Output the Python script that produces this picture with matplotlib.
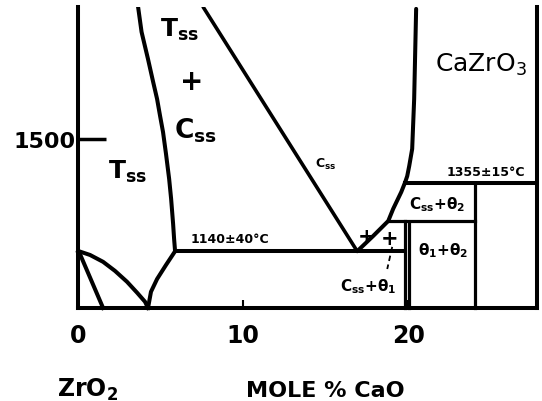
import matplotlib
matplotlib.use("Agg")
import matplotlib.pyplot as plt

plt.rcParams['font.family'] = 'DejaVu Sans'
plt.rcParams['mathtext.fontset'] = 'dejavusans'

# phase boundaries (x = mole % CaO, y = temperature, deg C)
tss_x = [3.64, 3.85, 4.24, 4.55, 4.79, 4.97, 5.15, 5.33, 5.52, 5.64, 5.76, 5.82, 5.88]
tss_t = [1923, 1843, 1756, 1683, 1628, 1574, 1522, 1452, 1372, 1308, 1228, 1180, 1140]

tss_low_x = [5.88, 5.33, 4.79, 4.42, 4.24]
tss_low_t = [1140, 1096, 1051, 1010, 958]

css_x = [7.58, 16.91]
css_t = [1923, 1140]

right_x = [20.48, 20.36, 20.24, 20.06, 19.94, 19.82, 19.58, 19.09, 18.79, 17.88, 16.91]
right_t = [1917, 1628, 1468, 1413, 1381, 1362, 1330, 1276, 1237, 1189, 1140]

mono_x = [0.0, 0.73, 1.52, 2.24, 2.97, 3.58, 4.06, 4.24]
mono_t = [1141, 1128, 1106, 1077, 1042, 1007, 978, 958]

mono2_x = [0.12, 1.52]
mono2_t = [1131, 958]

eutectoid_t = 1140
eutectoid_x = [5.88, 19.82]
upper_t = 1360
upper_x = [19.82, 27.8]
mid_t = 1237
mid_x = [18.79, 24.06]

theta1_a = 19.82
theta1_b = 20.06
theta2 = 24.06

dash_x = [19.03, 18.73]
dash_t = [1154, 1083]

xticks = [0, 10, 20]
xlabels = ['0', '10', '20']
yticks = [1500]
ylabels = ['1500']

fig = plt.figure(figsize=(5.42, 4.02), dpi=100)
ax = fig.add_axes([78 / 542, 93 / 402, 459 / 542, 301 / 402])
ax.set_xlim(0, 27.8)
ax.set_ylim(958, 1923)

lw = 2.9
lw2 = 2.3
k = 'black'

ax.plot(tss_x, tss_t, color=k, lw=lw, solid_capstyle='round', solid_joinstyle='round')
ax.plot(tss_low_x, tss_low_t, color=k, lw=lw, clip_on=False, solid_joinstyle='round')
ax.plot(css_x, css_t, color=k, lw=lw2 + 0.3, solid_capstyle='round')
ax.plot(right_x, right_t, color=k, lw=lw, solid_capstyle='round', solid_joinstyle='round')
ax.plot(mono_x, mono_t, color=k, lw=lw, clip_on=False, solid_joinstyle='round')
ax.plot(mono2_x, mono2_t, color=k, lw=lw, clip_on=False)

ax.plot(eutectoid_x, [eutectoid_t] * 2, color=k, lw=lw)
ax.plot(upper_x, [upper_t] * 2, color=k, lw=lw, clip_on=False)
ax.plot(mid_x, [mid_t] * 2, color=k, lw=lw2)
ax.plot([theta1_a] * 2, [mid_t, 958], color=k, lw=lw2, clip_on=False)
ax.plot([theta1_b] * 2, [mid_t - 8, 958], color=k, lw=lw2, clip_on=False)
ax.plot([theta2] * 2, [upper_t, 958], color=k, lw=lw2, clip_on=False)
ax.plot(dash_x, dash_t, color=k, lw=1.3, ls=(0, (3, 2)))

for s in ['left', 'bottom', 'right']:
    ax.spines[s].set_linewidth(lw)
ax.spines['top'].set_visible(False)

ax.set_xticks(xticks)
ax.set_xticklabels(xlabels, fontweight='bold')
ax.set_yticks(yticks)
ax.set_yticklabels(ylabels, fontweight='bold')
ax.tick_params(axis='x', direction='in', length=6, width=1.5, pad=11, labelsize=17)
ax.tick_params(axis='y', direction='in', length=20, width=2.5, pad=2, labelsize=16)

fw = 'bold'
ax.text(6.18, 1853, 'T$_\\mathregular{ss}$', fontsize=18, fontweight=fw, ha='center', va='center')
ax.text(6.91, 1686, '+', fontsize=20, fontweight=fw, ha='center', va='center')
ax.text(7.09, 1529, 'C$_\\mathregular{ss}$', fontsize=19, fontweight=fw, ha='center', va='center')
ax.text(3.03, 1397, 'T$_\\mathregular{ss}$', fontsize=18, fontweight=fw, ha='center', va='center')
ax.text(14.97, 1423, 'C$_\\mathregular{ss}$', fontsize=9, fontweight=fw, ha='center', va='center')
ax.text(9.21, 1180, '1140±40°C', fontsize=9, fontweight=fw, ha='center', va='center')
ax.text(24.42, 1740, 'CaZrO$_\\mathregular{3}$', fontsize=18, ha='center', va='center')
ax.text(24.73, 1397, '1355±15°C', fontsize=9, fontweight=fw, ha='center', va='center')
ax.text(21.76, 1292, 'C$_\\mathregular{ss}$+θ$_\\mathregular{2}$', fontsize=11, fontweight=fw,
        ha='center', va='center')
ax.text(22.12, 1144, 'θ$_\\mathregular{1}$+θ$_\\mathregular{2}$', fontsize=11, fontweight=fw,
        ha='center', va='center')
ax.text(17.58, 1029, 'C$_\\mathregular{ss}$+θ$_\\mathregular{1}$', fontsize=11, fontweight=fw,
        ha='center', va='center')
ax.text(17.45, 1189, '+', fontsize=15, fontweight=fw, ha='center', va='center')
ax.text(18.85, 1183, '+', fontsize=15, fontweight=fw, ha='center', va='center')

fig.text(88 / 542, 1 - 390 / 402, 'ZrO$_\\mathregular{2}$', fontsize=17, fontweight=fw,
         ha='center', va='center')
fig.text(325 / 542, 1 - 391 / 402, 'MOLE % CaO', fontsize=16, fontweight=fw,
         ha='center', va='center')

fig.savefig('out.png', dpi=100)
